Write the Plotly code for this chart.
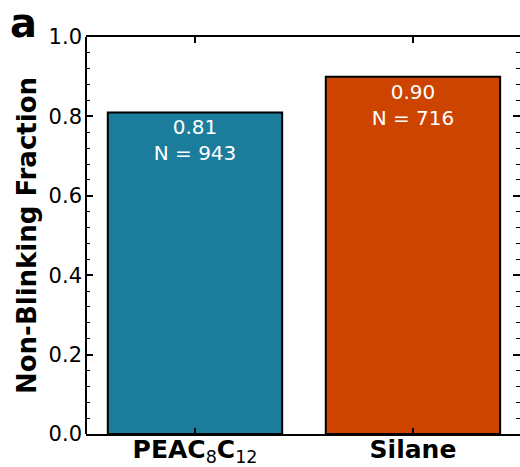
import plotly.graph_objects as go

categories = ["PEAC<sub><span style='font-weight:normal'>8</span></sub>C<sub><span style='font-weight:normal'>12</span></sub>", "Silane"]
fractions = [0.81, 0.90]
counts = [943, 716]
colors = ["#1B7D9B", "#CC4400"]
yticks = [0.0, 0.2, 0.4, 0.6, 0.8, 1.0]

labels = [f"{f:.2f}<br>N = {n}" for f, n in zip(fractions, counts)]

fig = go.Figure()
fig.add_trace(go.Bar(
    x=[0, 1], y=fractions, width=0.8,
    marker=dict(color=colors, line=dict(color="black", width=2)),
    text=labels, textposition="inside", insidetextanchor="end",
    textfont=dict(family="DejaVu Sans", size=20, color="white"),
    constraintext="none", showlegend=False,
))

fig.update_layout(
    width=520, height=467,
    margin=dict(l=86, r=0, t=37, b=33),
    plot_bgcolor="white", paper_bgcolor="white",
    font=dict(family="DejaVu Sans", color="black"),
    xaxis=dict(
        range=[-0.5, 1.491], tickvals=[0, 1], ticktext=categories,
        ticks="inside", ticklen=6, tickwidth=1.5, tickcolor="black",
        showline=True, linecolor="black", linewidth=2, mirror="ticks",
        tickfont=dict(family="DejaVu Sans", size=25, weight="bold"),
        ticklabelstandoff=-8, automargin=False,
        showgrid=False, zeroline=False,
    ),
    yaxis=dict(
        range=[0, 1.0], tickvals=yticks, ticktext=[f"{v:.1f}" for v in yticks],
        ticks="inside", ticklen=7, tickwidth=1.5, tickcolor="black",
        showline=False, mirror="ticks", automargin=False,
        tickfont=dict(family="DejaVu Sans", size=21),
        ticklabelstandoff=3,
        minor=dict(dtick=0.04, ticks="inside", ticklen=4, tickwidth=1, tickcolor="black", showgrid=False),
        showgrid=False, zeroline=False,
        title=dict(text="Non-Blinking Fraction", font=dict(family="DejaVu Sans", size=26, weight="bold"), standoff=4),
    ),
    shapes=[dict(type="line", xref="paper", yref="paper", x0=0, x1=0, y0=0, y1=1,
                 line=dict(color="black", width=2))],
    annotations=[dict(
        text="a", x=0, y=1, xref="paper", yref="paper", xanchor="left", yanchor="middle",
        xshift=-78, yshift=14, showarrow=False,
        font=dict(family="DejaVu Sans", size=40, weight="bold"),
    )],
)

fig.write_html("out.html")
